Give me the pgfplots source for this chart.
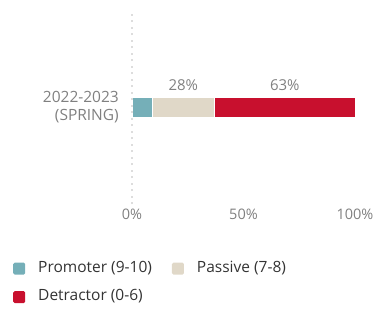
\documentclass[border=0pt]{standalone}
\usepackage{fontspec}
\setmainfont{Open Sans}
\usepackage{pgfplots}
\pgfplotsset{compat=1.18}
\definecolor{promoter}{RGB}{117,175,184}
\definecolor{passive}{RGB}{224,216,200}
\definecolor{detractor}{RGB}{200,16,46}
\definecolor{labelgray}{RGB}{128,128,128}
\definecolor{legtext}{RGB}{51,51,51}
\definecolor{dotgray}{RGB}{221,221,221}
\begin{document}
\begin{tikzpicture}[x=1pt,y=1pt]
\path[use as bounding box] (0,0) rectangle (375,309);
\begin{axis}[
  at={(132pt,105pt)}, anchor=south west,
  scale only axis, width=223pt, height=194pt,
  xmin=0, xmax=100, ymin=-97, ymax=97,
  xbar stacked, bar width=20pt,
  axis line style={draw=none},
  major tick length=0pt,
  xtick={0,50,100}, xticklabels={0\%,50\%,100\%},
  xticklabel style={font=\fontsize{14.5}{17}\selectfont, text=labelgray, inner sep=0pt, anchor=north, yshift=-5pt},
  ytick={0}, yticklabels={{2022-2023\\(SPRING)}},
  yticklabel style={font=\fontsize{15.5}{17.5}\selectfont, text=labelgray, inner sep=0pt, anchor=east, align=right, xshift=-13pt},
  /pgf/number format/assume math mode=true,
  clip=false,
  legend columns=2,
  legend cell align=left,
  legend style={draw=none, fill=none, inner sep=0pt,
    at={(axis description cs:-0.5336,-0.2938)}, anchor=north west,
    nodes={inner sep=0pt, text height=11pt, text depth=4pt, text=legtext, font=\fontsize{15.5}{18}\selectfont},
    column sep=13pt, row sep=13.5pt,
    /tikz/every even column/.append style={column sep=20pt}},
  legend image code/.code={\fill[#1, draw=none, rounded corners=1.5pt] (0pt,-6pt) rectangle (12pt,6pt);},
]
\draw[dotgray, line width=2pt, dash pattern=on 2pt off 4.5pt] (axis cs:0,-97) -- (axis cs:0,97);
\addplot[fill=promoter, draw=white, line width=0.8pt] coordinates {(9,0)};
\addlegendentry{Promoter (9-10)}
\addplot[fill=passive, draw=white, line width=0.8pt] coordinates {(28,0)};
\addlegendentry{Passive (7-8)}
\addplot[fill=detractor, draw=white, line width=0.8pt] coordinates {(63,0)};
\addlegendentry{Detractor (0-6)}
\node[font=\fontsize{15}{17}\selectfont, text=labelgray] at (axis cs:23,22) {28\%};
\node[font=\fontsize{15}{17}\selectfont, text=labelgray] at (axis cs:68.5,22) {63\%};
\end{axis}
\end{tikzpicture}
\end{document}
